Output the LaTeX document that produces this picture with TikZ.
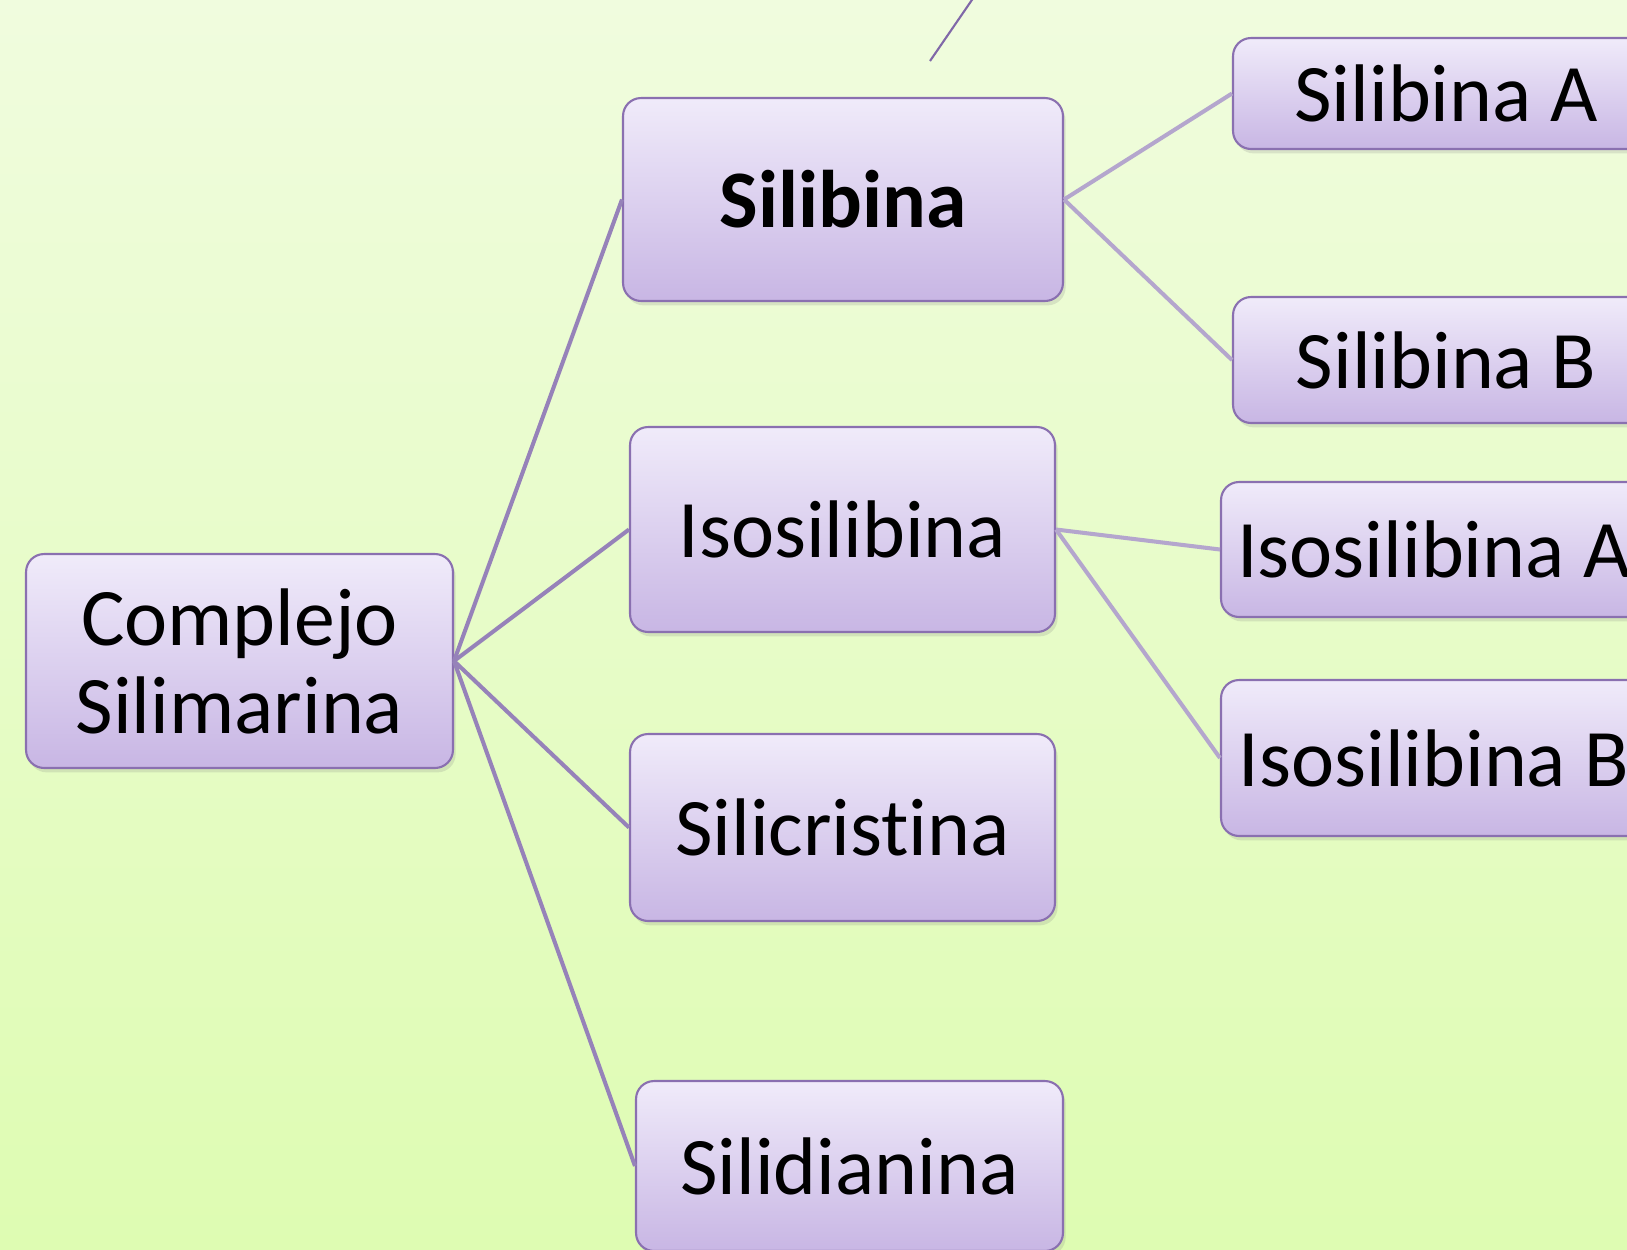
\documentclass[tikz,border=0pt]{standalone}
\usepackage{fontspec}
\setmainfont[Ligatures=NoCommon]{Carlito}
\usetikzlibrary{shadows}
\definecolor{bgtop}{RGB}{240,252,222}
\definecolor{bgbot}{RGB}{222,252,178}
\definecolor{boxtop}{RGB}{240,235,250}
\definecolor{boxbot}{RGB}{200,182,228}
\definecolor{boxline}{RGB}{138,112,176}
\definecolor{rootedge}{RGB}{150,130,185}
\definecolor{subedge}{RGB}{180,166,205}
\definecolor{stubedge}{RGB}{128,104,168}

\begin{document}
\begin{tikzpicture}[x=0.02cm,y=-0.02cm,
	box/.style={rectangle,rounded corners=0.36cm,draw=boxline,line width=1.2pt,
		top color=boxtop,bottom color=boxbot,inner sep=0pt,align=center,
		font=\fontsize{46.5}{50}\selectfont,
		drop shadow={opacity=0.2,shadow xshift=1.5pt,shadow yshift=-2.5pt}},
	rootline/.style={draw=rootedge,line width=2.3pt},
	subline/.style={draw=subedge,line width=2.3pt}]
	\useasboundingbox (0,0) rectangle (1627,1249);
	\clip (0,0) rectangle (1627,1249);
	\shade[top color=bgtop,bottom color=bgbot] (0,0) rectangle (1627,1249);

		\coordinate (stub) at (930,61);
		\coordinate (stubtop) at (976,-6);
		\draw[draw=stubedge,line width=1.2pt] (stub)--(stubtop);

		\node[box,minimum width=8.54cm,minimum height=4.28cm] at (239.5,661)(root){Complejo\\Silimarina};
		\node[box,minimum width=8.8cm,minimum height=4.06cm] at (843,199.5)(sil){\textbf{Silibina}};
		\node[box,minimum width=8.5cm,minimum height=4.1cm] at (842.5,529.5)(iso){Isosilibina};
		\node[box,minimum width=8.5cm,minimum height=3.74cm] at (842.5,827.5)(silic){Silicristina};
		\node[box,minimum width=8.54cm,minimum height=3.4cm] at (849.5,1166)(silid){Silidianina};

		\node[box,minimum width=8.52cm,minimum height=2.22cm] at (1446,93.5)(silA){Silibina A};
		\node[box,minimum width=8.52cm,minimum height=2.52cm] at (1446,360)(silB){Silibina B};
		\node[box,minimum width=8.52cm,minimum height=2.7cm] at (1434,549.5)(isoA){Isosilibina A};
		\node[box,minimum width=8.52cm,minimum height=3.12cm] at (1434,758)(isoB){Isosilibina B};

		\path[rootline]
		(root.east) edge (sil.west)
		(root.east) edge (iso.west)
		(root.east) edge (silic.west)
		(root.east) edge (silid.west);
		\path[subline]
		(sil.east) edge (silA.west)
		(sil.east) edge (silB.west)
		(iso.east) edge (isoA.west)
		(iso.east) edge (isoB.west);
\end{tikzpicture}
\end{document}
